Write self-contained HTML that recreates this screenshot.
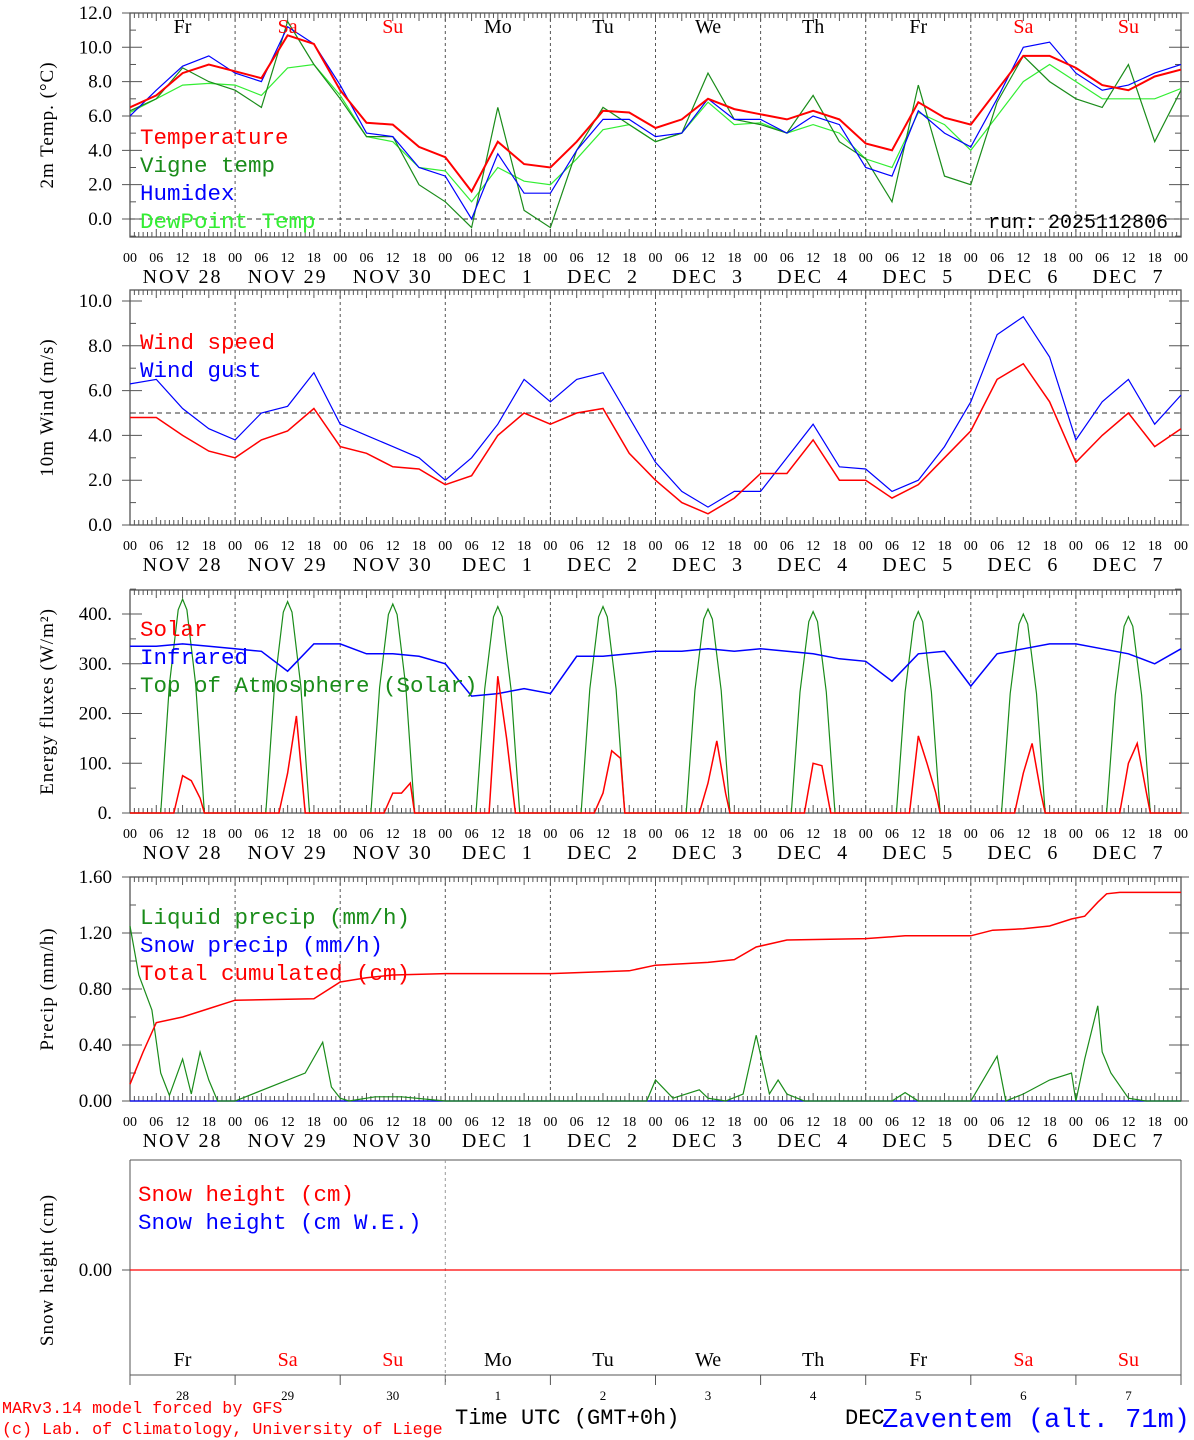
<!DOCTYPE html>
<html><head><meta charset="utf-8"><style>
html,body{margin:0;padding:0;background:#fff;}
svg{display:block;}
text{font-family:"Liberation Serif",serif;}
.lg{font-family:"Liberation Mono",monospace;}
</style></head><body>
<svg id="chart" width="1194" height="1440" xmlns="http://www.w3.org/2000/svg"></svg>
<script>
// ---- data (6-hourly from NOV 28 00 UTC, 41 points) ----
const dayNames = ["Fr","Sa","Su","Mo","Tu","We","Th","Fr","Sa","Su"];
const dayNums = ["28","29","30","1","2","3","4","5","6","7"];
const dateLabels = ["NOV 28","NOV 29","NOV 30","DEC  1","DEC  2","DEC  3","DEC  4","DEC  5","DEC  6","DEC  7"];
const tempVals = [6.5,7.2,8.5,9.0,8.6,8.2,10.7,10.2,7.5,5.6,5.5,4.2,3.6,1.6,4.5,3.2,3.0,4.5,6.3,6.2,5.3,5.8,7.0,6.4,6.1,5.8,6.3,5.8,4.4,4.0,6.8,5.9,5.5,7.5,9.5,9.5,8.8,7.8,7.5,8.3,8.7];
const vigneVals = [6.3,7.0,8.8,8.0,7.5,6.5,11.5,9.0,7.0,4.8,4.8,2.0,1.0,-0.5,6.5,0.5,-0.5,4.0,6.5,5.5,4.5,5.0,8.5,5.8,5.5,5.0,7.2,4.5,3.5,1.0,7.8,2.5,2.0,6.8,9.5,8.0,7.0,6.5,9.0,4.5,7.5];
const humidexVals = [6.0,7.5,8.9,9.5,8.5,8.0,11.2,10.2,7.8,5.0,4.8,3.0,2.5,0.0,3.8,1.5,1.5,4.0,5.8,5.8,4.8,5.0,7.0,5.8,5.8,5.0,6.0,5.5,3.0,2.5,6.3,5.0,4.2,7.0,10.0,10.3,8.5,7.5,7.8,8.5,9.0];
const dewVals = [6.2,7.0,7.8,7.9,7.8,7.2,8.8,9.0,7.2,4.8,4.5,3.0,2.8,1.0,3.0,2.2,2.0,3.5,5.2,5.5,4.5,5.0,6.8,5.5,5.6,5.0,5.5,5.0,3.5,3.0,6.2,5.5,4.0,6.0,8.0,9.0,8.0,7.0,7.0,7.0,7.6];
const windVals = [4.8,4.8,4.0,3.3,3.0,3.8,4.2,5.2,3.5,3.2,2.6,2.5,1.8,2.2,4.0,5.0,4.5,5.0,5.2,3.2,2.0,1.0,0.5,1.2,2.3,2.3,3.8,2.0,2.0,1.2,1.8,3.0,4.2,6.5,7.2,5.5,2.8,4.0,5.0,3.5,4.3];
const gustVals = [6.3,6.5,5.2,4.3,3.8,5.0,5.3,6.8,4.5,4.0,3.5,3.0,2.0,3.0,4.5,6.5,5.5,6.5,6.8,4.8,2.8,1.5,0.8,1.5,1.5,3.0,4.5,2.6,2.5,1.5,2.0,3.5,5.5,8.5,9.3,7.5,3.8,5.5,6.5,4.5,5.8];
const irVals = [335,335,340,335,330,325,285,340,340,320,320,315,300,235,240,250,240,315,315,320,325,325,330,325,330,325,320,310,305,265,320,325,255,320,330,340,340,330,320,300,330];
const toaHours = [7,9,11,12,13,15,17];
const toaPeaks = [430,425,420,415,415,410,405,405,400,395];
const toaFrac = [0,0.6,0.95,1,0.95,0.6,0];
const solarHours = [10,12,14,16,17];
const solarDay = [[0,75,65,30,0],[0,80,195,0,0],[0,40,40,60,0],[0,275,150,0,0],[0,40,125,110,0],[0,60,145,40,0],[0,100,95,0,0],[0,155,100,40,0],[0,80,140,40,0],[0,100,140,45,0]];
const cumHours = [0,3,6,12,18,24,42,48,54,60,72,96,114,120,132,138,143,150,168,177,192,197,204,210,215,218,221,223,226,240];
const cumVals = [0.12,0.35,0.56,0.6,0.66,0.72,0.73,0.85,0.88,0.9,0.91,0.91,0.93,0.97,0.99,1.01,1.1,1.15,1.16,1.18,1.18,1.22,1.23,1.25,1.3,1.32,1.42,1.48,1.49,1.49];
const liqHours = [0,2,5,7,9,12,14,16,18,20,24,40,44,46,48,50,56,62,72,118,120,124,130,132,136,140,143,146,148,150,154,160,174,177,180,192,198,200,204,210,215,216,218,221,222,224,228,232,240];
const liqVals = [1.25,0.9,0.65,0.2,0.04,0.3,0.05,0.35,0.15,0,0,0.2,0.42,0.1,0.02,0,0.03,0.03,0,0,0.15,0.02,0.08,0.02,0,0.05,0.47,0.05,0.15,0.05,0,0,0,0.06,0,0,0.32,0,0.05,0.15,0.2,0,0.3,0.68,0.35,0.2,0.02,0,0];

// ---- helpers ----
const svg = document.getElementById('chart');
const NS = 'http://www.w3.org/2000/svg';
const X0 = 130, X1 = 1181, DAYW = (X1 - X0) / 10;
const xH = h => X0 + h / 24 * DAYW;
function mk(tag, attrs, parent) {
  const e = document.createElementNS(NS, tag);
  for (const k in attrs) e.setAttribute(k, attrs[k]);
  (parent || svg).appendChild(e);
  return e;
}
function txt(s, x, y, attrs) {
  const t = mk('text', Object.assign({x: x, y: y}, attrs || {}));
  t.textContent = s;
  return t;
}
function line(pts, color, w, name) {
  const p = mk('polyline', {points: pts.map(p => p[0].toFixed(1) + ',' + p[1].toFixed(1)).join(' '), fill: 'none', stroke: color, 'stroke-width': w});
  
  
  return p;
}
function panel(top, bot, yfun, ticks, fmt, minor, title, labY) {
  const g = mk('g', {});
  
  
  mk('rect', {x: X0, y: top, width: X1 - X0, height: bot - top, fill: 'none', stroke: '#555', 'stroke-width': 1.3}, g);
  for (let d = 1; d < 10; d++) mk('line', {x1: xH(d * 24), x2: xH(d * 24), y1: top, y2: bot, stroke: '#555', 'stroke-dasharray': '3,3'}, g);
  for (let h = 0; h <= 240; h++) {
    const x = xH(h), L = h % 6 === 0 ? 8 : 5;
    mk('line', {x1: x, x2: x, y1: top, y2: top + L, stroke: '#555'}, g);
    mk('line', {x1: x, x2: x, y1: bot, y2: bot - L, stroke: '#555'}, g);
  }
  minor.forEach(v => {
    const y = yfun(v);
    mk('line', {x1: X0, x2: X0 + 6, y1: y, y2: y, stroke: '#555'}, g);
    mk('line', {x1: X1, x2: X1 - 6, y1: y, y2: y, stroke: '#555'}, g);
  });
  ticks.forEach(v => {
    const y = yfun(v);
    mk('line', {x1: X0 - 8, x2: X0 + 12, y1: y, y2: y, stroke: '#555'}, g);
    mk('line', {x1: X1 + 8, x2: X1 - 12, y1: y, y2: y, stroke: '#555'}, g);
    const t = txt(fmt(v), 112, y + 6, {'text-anchor': 'end', style: 'font-size:19px'});
    
    
  });
  const ty = (top + bot) / 2;
  const tt = txt(title, 53, ty, {'text-anchor': 'middle', style: 'font-size:19px;letter-spacing:1px', transform: 'rotate(-90 53 ' + ty + ')'});
  
  
  for (let h = 0; h <= 240; h += 6) {
    const t = txt(String(h % 24).padStart(2, '0'), xH(h), labY, {'text-anchor': 'middle', style: 'font-size:14px'});
    
    
  }
  dateLabels.forEach((s, i) => {
    const t = txt(s, xH(i * 24 + 12), labY + 21, {'text-anchor': 'middle', style: 'font-size:20px;letter-spacing:2px;white-space:pre', 'xml:space': 'preserve'});
    
    
  });
  return g;
}
function legend(items, x, y0) {
  items.forEach((s, i) => {
    const t = txt(s[0], x, y0 + i * 28, {class: 'lg', fill: s[1], style: 'font-size:22.5px'});
    
    
  });
}
const six = v => v.map((val, i) => [xH(i * 6), val]);
const red = '#ff0000', dg = '#1a8c1a', bl = '#0000ff', lg = '#33ee33';

// ---- Panel 1 ----
const y1 = v => 219 - v * 17.17;
panel(13, 237, y1, [0, 2, 4, 6, 8, 10, 12], v => v.toFixed(1), [-1,1,3,5,7,9,11], '2m Temp. (\u00B0C)', 262);
mk('line', {x1: X0, x2: X1, y1: y1(0), y2: y1(0), stroke: '#333', 'stroke-dasharray': '5,4'});
const clip1 = mk('clipPath', {id: 'c1'}); mk('rect', {x: X0, y: 13, width: X1 - X0, height: 224}, clip1);
const gp1 = mk('g', {'clip-path': 'url(#c1)'});
[[dewVals, lg, 'dewpoint-line'], [vigneVals, dg, 'vigne-temp-line'], [humidexVals, bl, 'humidex-line'], [tempVals, red, 'temperature-line']].forEach(s => {
  gp1.appendChild(line(six(s[0]).map(p => [p[0], y1(p[1])]), s[1], s[2] === 'temperature-line' ? 2 : 1.2, s[2]));
});
dayNames.forEach((n, i) => {
  const t = txt(n, xH(i * 24 + 12), 33, {'text-anchor': 'middle', style: 'font-size:20px', fill: (n === 'Sa' || n === 'Su') ? red : '#000'});
  
  
});
legend([['Temperature', red], ['Vigne temp', dg], ['Humidex', bl], ['DewPoint Temp', lg]], 140, 144);
const rn = txt('run: 2025112806', 1168, 228, {class: 'lg', 'text-anchor': 'end', style: 'font-size:20px'});
 

// ---- Panel 2 ----
const y2 = v => 525 - v * 22.4;
panel(290, 525, y2, [0, 2, 4, 6, 8, 10], v => v.toFixed(1), [1,3,5,7,9], '10m Wind (m/s)', 550);
mk('line', {x1: X0, x2: X1, y1: y2(5), y2: y2(5), stroke: '#333', 'stroke-dasharray': '5,4'});
line(six(gustVals).map(p => [p[0], y2(p[1])]), bl, 1.2, 'wind-gust-line');
line(six(windVals).map(p => [p[0], y2(p[1])]), red, 1.5, 'wind-speed-line');
legend([['Wind speed', red], ['Wind gust', bl]], 140, 349);

// ---- Panel 3 ----
const y3 = v => 813 - v * 0.4975;
panel(590, 813, y3, [0, 100, 200, 300, 400], v => v.toFixed(0) + '.', [50,150,250,350,450], 'Energy fluxes (W/m\u00B2)', 838);
const toaPts = [];
toaPeaks.forEach((pk, d) => {
  toaPts.push([xH(d * 24), y3(0)]);
  toaHours.forEach((h, j) => toaPts.push([xH(d * 24 + h), y3(pk * toaFrac[j])]));
});
toaPts.push([xH(240), y3(0)]);
line(toaPts, dg, 1.2, 'toa-solar-line');
line(six(irVals).map(p => [p[0], y3(p[1])]), bl, 1.5, 'infrared-line');
const solPts = [];
solarDay.forEach((vals, d) => {
  solPts.push([xH(d * 24), y3(0)]);
  solarHours.forEach((h, j) => solPts.push([xH(d * 24 + h), y3(vals[j])]));
});
solPts.push([xH(240), y3(0)]);
line(solPts, red, 1.5, 'solar-line');
legend([['Solar', red], ['Infrared', bl], ['Top of Atmosphere (Solar)', dg]], 140, 636);

// ---- Panel 4 ----
const y4 = v => 1101 - v * 140;
panel(877, 1101, y4, [0, 0.4, 0.8, 1.2, 1.6], v => v.toFixed(2), [0.2,0.6,1.0,1.4], 'Precip (mm/h)', 1126);
line([[X0, y4(0)], [X1, y4(0)]], bl, 1.2, 'snow-precip-line');
line(liqHours.map((h, i) => [xH(h), y4(liqVals[i])]), dg, 1.2, 'liquid-precip-line');
line(cumHours.map((h, i) => [xH(h), y4(cumVals[i])]), red, 1.5, 'total-cumulated-line');
legend([['Liquid precip (mm/h)', dg], ['Snow precip (mm/h)', bl], ['Total cumulated (cm)', red]], 140, 924);

// ---- Panel 5 ----
const g5 = mk('g', {});


mk('line', {x1: X0, x2: X1, y1: 1160, y2: 1160, stroke: '#555'}, g5);
mk('line', {x1: X0, x2: X0, y1: 1160, y2: 1385, stroke: '#555'}, g5);
mk('line', {x1: X1, x2: X1, y1: 1160, y2: 1385, stroke: '#555'}, g5);
mk('line', {x1: X0, x2: X1, y1: 1375, y2: 1375, stroke: '#555'}, g5);
for (let d = 1; d < 10; d++) mk('line', {x1: xH(d * 24), x2: xH(d * 24), y1: 1375, y2: 1385, stroke: '#555'}, g5);
mk('line', {x1: xH(72), x2: xH(72), y1: 1160, y2: 1385, stroke: '#999', 'stroke-dasharray': '3,3'}, g5);
mk('line', {x1: X0 - 8, x2: X0 + 10, y1: 1270, y2: 1270, stroke: '#555'}, g5);
mk('line', {x1: X1 + 8, x2: X1 - 10, y1: 1270, y2: 1270, stroke: '#555'}, g5);
const t5 = txt('0.00', 112, 1276, {'text-anchor': 'end', style: 'font-size:19px'});
 
const tt5 = txt('Snow height (cm)', 53, 1270, {'text-anchor': 'middle', style: 'font-size:19px;letter-spacing:1px', transform: 'rotate(-90 53 1270)'});
 
line([[X0, 1270], [X1, 1270]], red, 1.3, 'snow-height-line');
legend([['Snow height (cm)', red], ['Snow height (cm W.E.)', bl]], 138, 1201);
dayNames.forEach((n, i) => {
  const t = txt(n, xH(i * 24 + 12), 1366, {'text-anchor': 'middle', style: 'font-size:20px', fill: (n === 'Sa' || n === 'Su') ? red : '#000'});
  
  
  const t2 = txt(dayNums[i], xH(i * 24 + 12), 1400, {'text-anchor': 'middle', style: 'font-size:13px'});
  
  
});

// ---- footer ----
const f1 = txt('MARv3.14 model forced by GFS', 2, 1413, {class: 'lg', style: 'font-size:16.7px', fill: red});
 
const f2 = txt('(c) Lab. of Climatology, University of Liege', 2, 1434, {class: 'lg', style: 'font-size:16.7px', fill: red});
 
const f3 = txt('Time UTC (GMT+0h)', 455, 1424, {class: 'lg', style: 'font-size:22px'});
 
const f4 = txt('DEC', 845, 1424, {class: 'lg', style: 'font-size:22px'});
 
const f5 = txt('Zaventem (alt. 71m)', 1190, 1427, {class: 'lg', style: 'font-size:27px', fill: bl, 'text-anchor': 'end'});
 
</script>
</body></html>
